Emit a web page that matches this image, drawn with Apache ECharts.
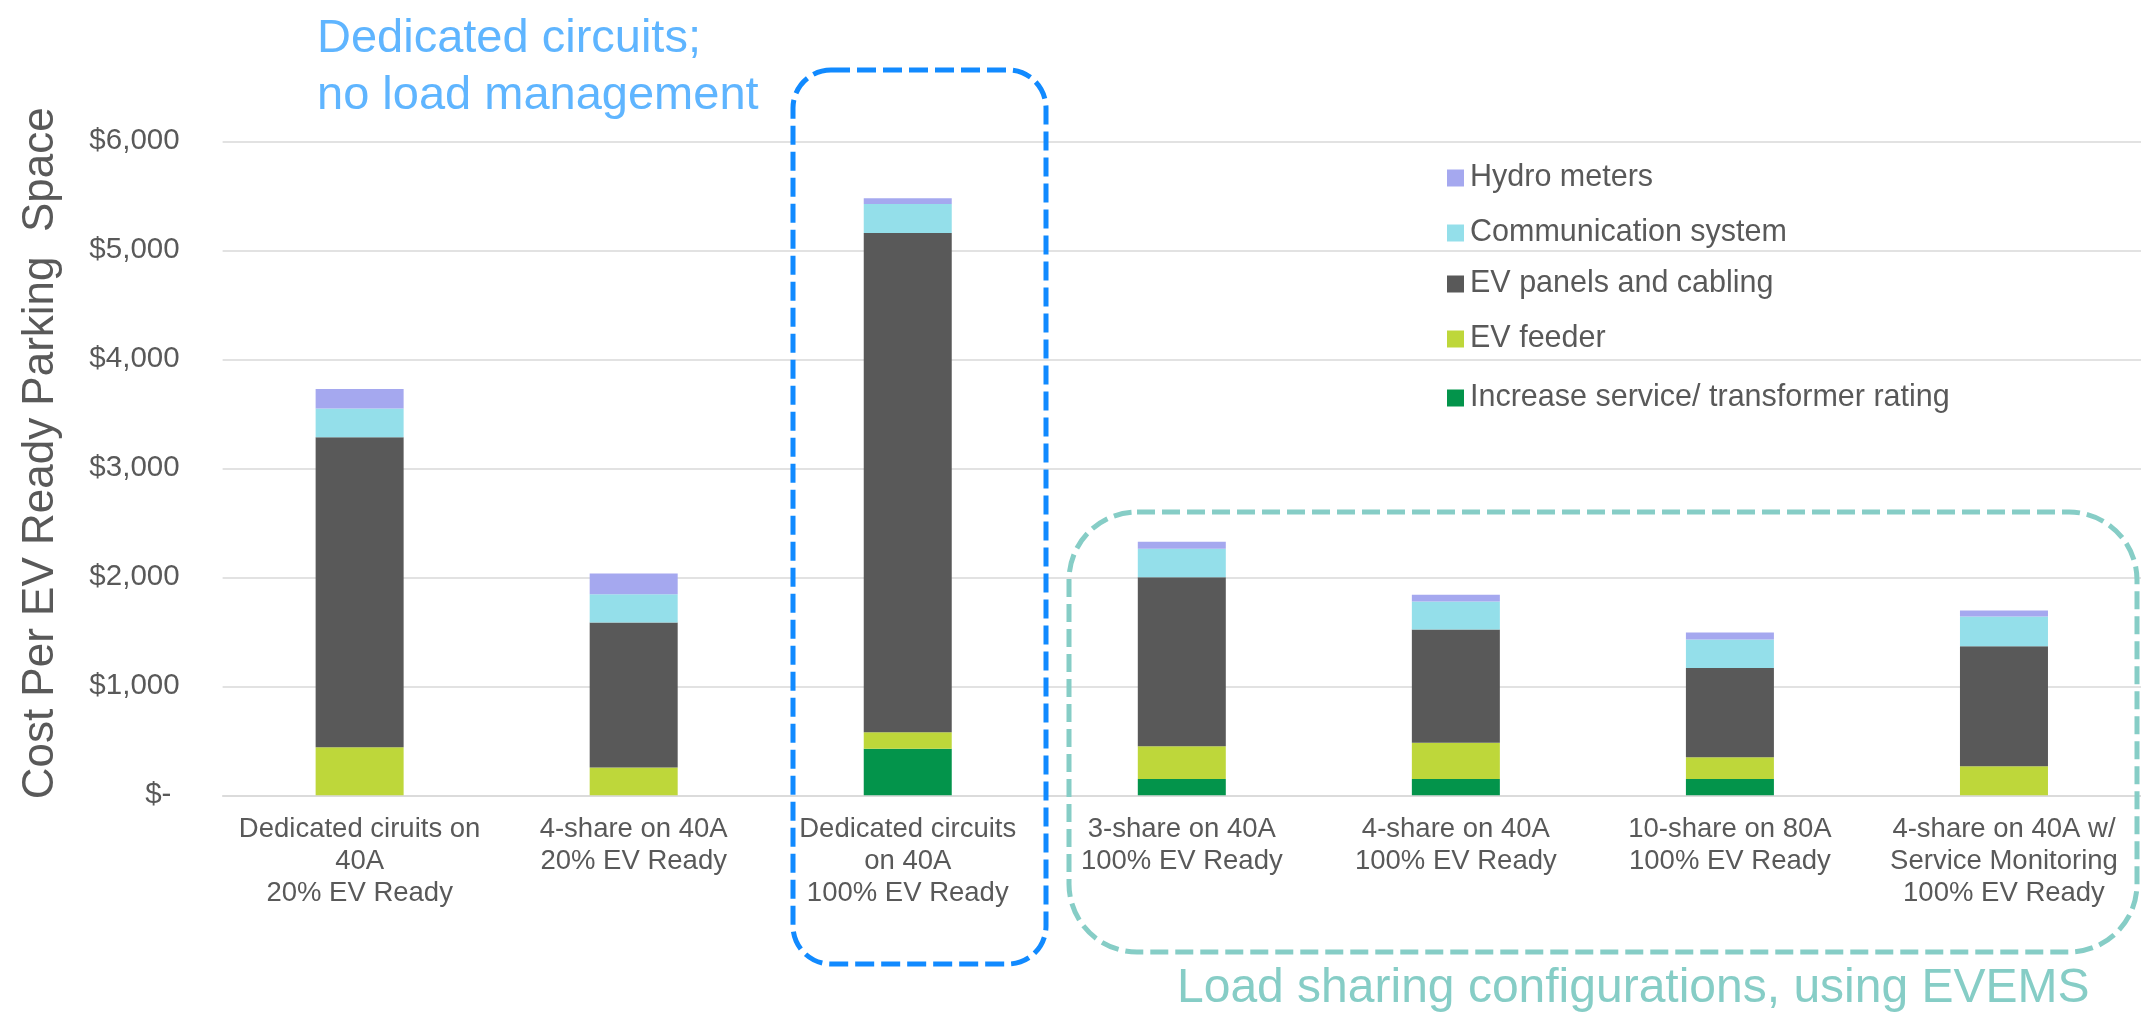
<!DOCTYPE html>
<html>
<head>
<meta charset="utf-8">
<script src="https://cdn.jsdelivr.net/npm/echarts@6/dist/echarts.min.js"></script>
<style>
html,body{margin:0;padding:0;background:#fff;}
#chart{width:2141px;height:1016px;}
</style>
</head>
<body>
<div id="chart"></div>
<script>
// ---- data ----
const categories = [
  "Dedicated ciruits on\n40A\n20% EV Ready",
  "4-share on 40A\n20% EV Ready",
  "Dedicated circuits\non 40A\n100% EV Ready",
  "3-share on 40A\n100% EV Ready",
  "4-share on 40A\n100% EV Ready",
  "10-share on 80A\n100% EV Ready",
  "4-share on 40A w/\nService Monitoring\n100% EV Ready"
];
const seriesNames = [
  "Increase service/ transformer rating",
  "EV feeder",
  "EV panels and cabling",
  "Communication system",
  "Hydro meters"
];
const increaseService = [0, 0, 427, 150, 150, 150, 0];
const evFeeder        = [440, 255, 151, 300, 332, 198, 266];
const evPanels        = [2845, 1330, 4580, 1550, 1039, 821, 1102];
const commSystem      = [263, 260, 267, 263, 256, 260, 272];
const hydroMeters     = [180, 190, 53, 64, 64, 64, 55];
const yTickLabels = ["$- ", "$1,000", "$2,000", "$3,000", "$4,000", "$5,000", "$6,000"];
const yAxisTitle = "Cost Per EV Ready Parking  Space";
const noteDedicated = "Dedicated circuits;\nno load management";
const noteLoadSharing = "Load sharing configurations, using EVEMS";

// ---- styling ----
const FONT = "'Liberation Sans', Arial, sans-serif";
const TXT = "#595959";
const colors = ["#03944B", "#BED73A", "#595959", "#94DFEA", "#A5A8EF"];
const values = [increaseService, evFeeder, evPanels, commSystem, hydroMeters];

const series = seriesNames.map((n, i) => ({
  name: n,
  type: 'bar',
  stack: 'cost',
  barWidth: 88,
  data: values[i],
  itemStyle: { color: colors[i] },
  emphasis: { disabled: true }
}));

// legend items, top to bottom, each positioned separately
const legendOrder = ["Hydro meters", "Communication system", "EV panels and cabling", "EV feeder", "Increase service/ transformer rating"];
const legendCenters = [178, 233, 284, 339, 398];
const legends = legendOrder.map((n, i) => ({
  data: [n],
  left: 1447,
  top: legendCenters[i] - 17,
  padding: 0,
  itemWidth: 17,
  itemHeight: 17,
  icon: 'rect',
  selectedMode: false,
  textStyle: { fontFamily: FONT, fontSize: 30.5, color: TXT, lineHeight: 34, padding: [0,0,0,1] }
}));

const chart = echarts.init(document.getElementById('chart'), null, { renderer: 'canvas' });
chart.setOption({
  animation: false,
  backgroundColor: '#fff',
  color: colors,
  legend: legends,
  grid: { left: 222.6, top: 141.3, width: 1939, height: 654, containLabel: false },
  xAxis: {
    type: 'category',
    data: categories,
    axisLine: { show: true, lineStyle: { color: '#D9D9D9', width: 1.5 } },
    axisTick: { show: false },
    axisLabel: {
      interval: 0, margin: 18,
      fontFamily: FONT, fontSize: 27.5, lineHeight: 32, color: TXT, align: 'center'
    }
  },
  yAxis: {
    type: 'value',
    min: 0, max: 6000, interval: 1000,
    name: yAxisTitle,
    nameLocation: 'middle',
    nameGap: 160,
    nameTextStyle: { fontFamily: FONT, fontSize: 44, color: TXT, padding: [0, 0, 0, 30] },
    axisLine: { show: false },
    axisTick: { show: false },
    splitLine: { lineStyle: { color: '#D9D9D9', width: 1.5 } },
    axisLabel: {
      margin: 43,
      fontFamily: FONT, fontSize: 29.5, color: TXT,
      formatter: v => yTickLabels[Math.round(v / 1000)]
    }
  },
  series: series,
  graphic: [
    {
      type: 'rect', silent: true, z: 10,
      shape: { x: 793, y: 70, width: 253, height: 894, r: 38 },
      style: { fill: 'none', stroke: '#118AFF', lineWidth: 5, lineDash: [19, 7] }
    },
    {
      type: 'rect', silent: true, z: 10,
      shape: { x: 1069, y: 512, width: 1068, height: 440, r: 68 },
      style: { fill: 'none', stroke: '#86CDC6', lineWidth: 5, lineDash: [18, 7] }
    },
    {
      type: 'text', silent: true, z: 10,
      left: 317, top: 11,
      style: { text: noteDedicated, font: "47px " + FONT, fill: '#5FB5FF', lineHeight: 57 }
    },
    {
      type: 'text', silent: true, z: 10,
      left: 1177, top: 960,
      style: { text: noteLoadSharing, font: "48px " + FONT, fill: '#86CDC6', lineHeight: 57 }
    }
  ]
});
</script>
</body>
</html>
